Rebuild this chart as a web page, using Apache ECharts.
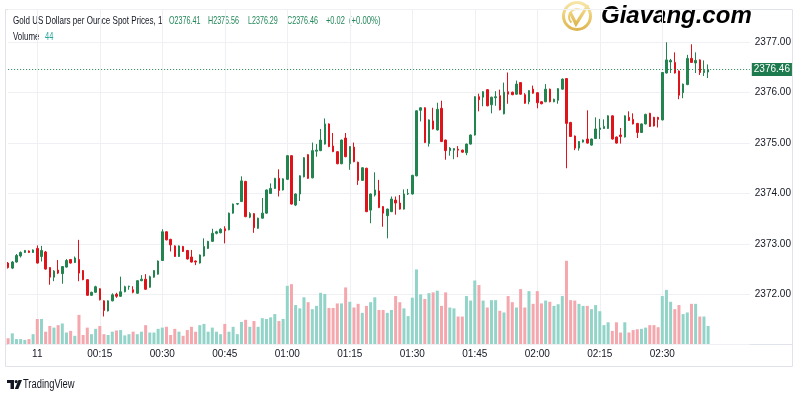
<!DOCTYPE html>
<html><head><meta charset="utf-8">
<script src="https://cdn.jsdelivr.net/npm/echarts@6/dist/echarts.min.js"></script>
<style>html,body{margin:0;padding:0;background:#fff}#c{width:800px;height:400px}</style>
</head><body><div id="c"></div>
<script>
const opens = [
2372.62,2372.52,2372.64,2372.76,2372.83,2372.86,2372.83,2372.91,2372.75,2372.84,
2372.53,2372.34,2372.48,2372.41,2372.54,2372.69,2372.63,2372.69,2372.47,2372.29,
2371.98,2372.04,2372.11,2371.87,2371.67,2371.87,2372.00,2371.96,2372.05,2372.15,
2372.09,2372.02,2372.27,2372.30,2372.14,2372.34,2372.40,2372.67,2373.24,2373.09,
2372.96,2372.75,2372.95,2372.87,2372.74,2372.66,2372.62,2372.76,2372.91,2373.05,
2373.21,2373.22,2373.30,2373.28,2373.61,2373.79,2373.84,2374.24,2373.53,2373.60,
2373.31,2373.51,2373.61,2374.00,2374.10,2374.30,2374.07,2374.28,2374.75,2373.77,
2373.99,2374.33,2374.77,2374.31,2374.84,2374.85,2374.98,2375.38,2374.94,2374.83,
2374.59,2375.10,2374.59,2374.92,2374.62,2374.26,2374.50,2373.67,2373.97,2374.05,
2373.74,2373.56,2373.64,2373.87,2373.81,2373.69,2373.99,2373.99,2374.35,2375.65,
2375.70,2374.99,2375.44,2375.26,2375.69,2375.06,2374.85,2374.86,2374.88,2374.86,
2374.81,2374.98,2375.16,2375.92,2375.91,2376.06,2375.76,2375.90,2375.94,2375.58,
2376.02,2376.01,2375.97,2376.20,2375.96,2375.82,2376.07,2376.00,2375.82,2375.82,
2376.07,2375.82,2375.85,2376.07,2376.28,2375.41,2375.14,2374.90,2375.02,2375.08,
2374.96,2375.09,2375.27,2375.29,2375.29,2375.54,2375.12,2375.16,2375.12,2375.51,
2375.47,2375.39,2375.21,2375.38,2375.59,2375.51,2375.51,2375.46,2376.39,2376.61,
2376.60,2376.43,2376.00,2376.16,2376.68,2376.59,2376.65,2376.40,2376.41];
const closes = [
2372.53,2372.64,2372.77,2372.83,2372.87,2372.83,2372.88,2372.62,2372.87,2372.50,
2372.34,2372.46,2372.42,2372.55,2372.67,2372.62,2372.72,2372.42,2372.29,2371.98,
2372.04,2372.15,2371.89,2371.68,2371.87,2371.99,2371.96,2372.05,2372.15,2372.16,
2372.04,2372.27,2372.30,2372.10,2372.35,2372.47,2372.66,2373.24,2373.08,2372.98,
2372.75,2372.96,2372.85,2372.70,2372.64,2372.64,2372.78,2372.95,2373.05,2373.21,
2373.24,2373.29,2373.26,2373.61,2373.79,2373.80,2374.25,2373.54,2373.60,2373.32,
2373.51,2373.61,2374.07,2374.10,2374.30,2374.06,2374.29,2374.75,2373.79,2373.99,
2374.35,2374.71,2374.30,2374.85,2374.86,2375.06,2375.38,2374.93,2374.83,2374.59,
2375.06,2374.73,2374.93,2374.63,2374.26,2374.51,2373.64,2373.99,2374.07,2373.72,
2373.61,2373.69,2373.89,2373.81,2373.69,2373.99,2374.00,2374.36,2375.64,2375.70,
2375.01,2375.46,2375.28,2375.67,2375.03,2374.85,2374.90,2374.89,2374.86,2374.82,
2374.98,2375.16,2375.92,2375.86,2376.02,2375.74,2375.91,2375.92,2375.66,2376.01,
2375.97,2375.96,2376.17,2375.97,2375.79,2376.04,2375.99,2375.80,2375.78,2376.07,
2375.82,2375.87,2376.08,2376.27,2375.39,2375.13,2374.90,2375.03,2375.06,2375.00,
2375.08,2375.28,2375.30,2375.33,2375.54,2375.08,2375.00,2375.13,2375.54,2375.45,
2375.38,2375.21,2375.38,2375.57,2375.33,2375.34,2375.47,2376.40,2376.65,2376.64,
2376.39,2375.95,2376.17,2376.68,2376.60,2376.64,2376.40,2376.44,2376.46];
const lows = [
2372.51,2372.50,2372.63,2372.73,2372.82,2372.82,2372.82,2372.61,2372.65,2372.49,
2372.19,2372.26,2372.40,2372.21,2372.53,2372.61,2372.62,2372.26,2372.28,2371.97,
2371.97,2372.03,2371.88,2371.56,2371.66,2371.86,2371.93,2371.95,2372.04,2372.09,
2372.02,2372.01,2372.26,2372.09,2372.13,2372.33,2372.39,2372.66,2373.07,2372.85,
2372.74,2372.74,2372.84,2372.69,2372.63,2372.58,2372.61,2372.75,2372.90,2373.04,
2373.19,2373.21,2373.01,2373.27,2373.60,2373.77,2373.83,2373.53,2373.51,2373.22,
2373.30,2373.50,2373.60,2373.99,2374.09,2373.94,2374.06,2374.27,2373.78,2373.75,
2373.85,2374.32,2374.29,2374.30,2374.73,2374.84,2374.97,2374.92,2374.82,2374.58,
2374.58,2374.72,2374.47,2374.62,2374.17,2374.25,2373.63,2373.41,2373.94,2373.71,
2373.34,2373.11,2373.63,2373.58,2373.68,2373.68,2373.97,2373.98,2374.34,2375.43,
2375.00,2374.93,2375.27,2375.25,2375.02,2374.67,2374.75,2374.68,2374.72,2374.81,
2374.76,2374.97,2375.15,2375.63,2375.73,2375.73,2375.59,2375.74,2375.65,2375.57,
2375.78,2375.95,2375.96,2375.96,2375.78,2375.77,2375.98,2375.69,2375.77,2375.81,
2375.81,2375.81,2375.78,2376.06,2374.50,2375.12,2374.86,2374.85,2375.01,2374.99,
2374.95,2375.08,2375.08,2375.28,2375.28,2375.07,2374.99,2374.99,2375.11,2375.44,
2375.37,2375.10,2375.20,2375.37,2375.32,2375.33,2375.31,2375.45,2376.38,2376.39,
2376.38,2375.87,2375.89,2376.15,2376.59,2376.39,2376.35,2376.33,2376.29];
const highs = [
2372.64,2372.66,2372.80,2372.85,2372.88,2372.87,2372.89,2372.97,2372.96,2372.86,
2372.54,2372.48,2372.68,2372.56,2372.70,2372.70,2372.75,2373.08,2372.48,2372.30,
2372.05,2372.17,2372.12,2371.88,2371.88,2372.02,2372.03,2372.35,2372.17,2372.17,
2372.16,2372.28,2372.38,2372.40,2372.37,2372.48,2372.67,2373.29,2373.25,2373.10,
2372.97,2372.97,2372.96,2372.88,2372.88,2372.67,2372.79,2373.11,2373.06,2373.30,
2373.26,2373.31,2373.35,2373.62,2373.80,2373.81,2374.34,2374.25,2373.63,2373.61,
2373.52,2373.91,2374.08,2374.20,2374.31,2374.48,2374.30,2374.76,2374.76,2374.00,
2374.36,2374.72,2374.78,2375.01,2374.98,2375.28,2375.49,2375.39,2375.20,2374.84,
2375.07,2375.20,2374.94,2375.01,2374.63,2374.52,2374.51,2374.00,2374.42,2374.27,
2373.75,2373.70,2373.94,2373.94,2373.97,2374.08,2374.09,2374.37,2375.65,2375.71,
2375.71,2375.47,2375.70,2375.80,2375.84,2375.07,2374.92,2374.90,2374.94,2374.87,
2374.99,2375.17,2375.93,2375.98,2376.03,2376.07,2375.92,2376.03,2376.06,2376.20,
2376.40,2376.02,2376.24,2376.21,2375.99,2376.05,2376.14,2376.01,2375.83,2376.17,
2376.08,2375.88,2376.09,2376.28,2376.29,2375.42,2375.15,2375.04,2375.07,2375.65,
2375.09,2375.51,2375.48,2375.47,2375.55,2375.55,2375.13,2375.30,2375.55,2375.63,
2375.59,2375.40,2375.39,2375.58,2375.60,2375.52,2375.52,2376.41,2377.00,2376.67,
2376.80,2376.44,2376.18,2376.75,2376.96,2376.80,2376.66,2376.64,2376.56];
const volumes = [
14,26,12,12,10,12,24,61,61,30,
44,40,46,50,28,32,20,71,22,40,
24,37,44,24,22,30,33,34,21,24,
30,24,30,46,28,28,37,40,42,22,
37,30,20,34,42,30,46,49,30,40,
30,24,49,30,42,24,54,59,42,56,
42,63,61,65,73,56,61,142,146,95,
87,114,102,85,93,125,122,88,88,99,
99,138,103,89,98,76,93,102,114,83,
83,76,83,117,102,87,68,113,182,121,
110,124,126,130,93,126,89,87,67,67,
117,106,155,144,106,89,107,107,81,77,
117,102,89,134,89,129,98,129,99,106,
103,93,97,117,203,107,106,98,93,93,
85,95,80,46,53,32,53,28,53,28,
34,36,37,40,46,46,41,117,132,103,
85,95,73,77,98,98,67,67,44];
// time categories: 1-minute bars from 23:53, axis extended to 02:51
const firstMinute = 23 * 60 + 53;
const categoryCount = 179;
const categories = [];
for (let k = 0; k < categoryCount; k++) {
  const m = (firstMinute + k) % 1440;
  categories.push(String(Math.floor(m / 60)).padStart(2, '0') + ':' + String(m % 60).padStart(2, '0'));
}
const tickTimes = ['00:00','00:15','00:30','00:45','01:00','01:15','01:30','01:45','02:00','02:15','02:30'];
const tickLabels = ['11','00:15','00:30','00:45','01:00','01:15','01:30','01:45','02:00','02:15','02:30'];
const priceTicks = [2372, 2373, 2374, 2375, 2376, 2377];

const F = "'Liberation Sans',Arial,sans-serif";
const UP = '#22844f', DOWN = '#e0131b';
const VUP = '#93d4c9', VDOWN = '#f5a7ae';
const GRID = '#eef0f4';
const TXT = '#131722';
const HDR_GREEN = '#22875a';

const candleData = opens.map((o, i) => [o, closes[i], lows[i], highs[i]]);
const volData = volumes.map((v, i) => ({ value: v, itemStyle: { color: closes[i] >= opens[i] ? VUP : VDOWN } }));
const last = closes.length - 1;
const lastClose = closes[last];
const lastVol = volumes[last];
const tickMap = {};
tickTimes.forEach((t, i) => { tickMap[t] = tickLabels[i]; });

const gold = { type: 'linear', x: 0, y: 0, x2: 0, y2: 1, colorStops: [{ offset: 0, color: '#f8eab2' }, { offset: 0.5, color: '#eccd72' }, { offset: 1, color: '#dcb24c' }] };

function hText(x, y, text, fill, sx) {
  return { type: 'text', x: x, y: y, scaleX: sx, silent: true,
    style: { text: text, fill: fill, font: '11px ' + F, textVerticalAlign: 'middle', verticalAlign: 'middle', textAlign: 'left', align: 'left' } };
}

const chart = echarts.init(document.getElementById('c'), null, { renderer: 'canvas' });
chart.setOption({
  animation: false,
  backgroundColor: '#ffffff',
  textStyle: { fontFamily: F },
  grid: [
    { left: 8.13, right: 50.2, top: 9, bottom: 55.3 },
    { left: 8.13, right: 50.2, bottom: 56, height: 100 }
  ],
  xAxis: [
    { type: 'category', gridIndex: 0, data: categories, boundaryGap: false,
      axisLine: { show: false }, axisTick: { show: false }, axisLabel: { show: false },
      splitLine: { show: true, interval: (i, v) => v in tickMap, lineStyle: { color: GRID, width: 1 } } },
    { type: 'category', gridIndex: 1, data: categories, boundaryGap: false,
      axisLine: { show: false }, axisTick: { show: false }, splitLine: { show: false },
      axisLabel: { interval: (i, v) => v in tickMap, formatter: v => tickMap[v] || '', margin: 5,
        color: TXT, fontSize: 10, fontFamily: F, hideOverlap: false } }
  ],
  yAxis: [
    { type: 'value', gridIndex: 0, position: 'right', min: 2371, max: 2377.66, interval: 1,
      axisLine: { show: false }, axisTick: { show: false },
      axisLabel: { margin: 5, color: TXT, fontSize: 10, fontFamily: F, showMaxLabel: false, showMinLabel: false,
        formatter: v => priceTicks.some(p => Math.abs(p - v) < 1e-6) ? v.toFixed(2) : '' },
      splitLine: { show: true, lineStyle: { color: GRID, width: 1 } } },
    { type: 'value', gridIndex: 1, min: 0, max: 244, show: false, splitLine: { show: false } }
  ],
  series: [
    { type: 'bar', xAxisIndex: 1, yAxisIndex: 1, data: volData, barWidth: 3, clip: false, z: 1,
      markLine: { silent: true, symbol: ['none', 'none'], animation: false,
        lineStyle: { opacity: 0 },
        data: [{ yAxis: lastVol }],
        label: { show: true, position: 'end', distance: 2, formatter: String(lastVol), color: '#fff',
          backgroundColor: '#22a28c', padding: [2, 3, 1, 3], fontSize: 10, fontFamily: F } } },
    { type: 'candlestick', xAxisIndex: 0, yAxisIndex: 0, data: candleData, barWidth: 2, clip: false, z: 3,
      itemStyle: { color: UP, color0: DOWN, borderColor: UP, borderColor0: DOWN, borderWidth: 1 },
      markLine: { silent: true, symbol: ['none', 'none'], animation: false,
        data: [{ yAxis: lastClose }],
        lineStyle: { color: UP, type: [1, 2], width: 1 },
        label: { show: true, position: 'end', distance: 2, formatter: lastClose.toFixed(2), color: '#fff',
          backgroundColor: '#1e7b4d', padding: [2, 2, 1, 2], fontSize: 10, fontFamily: F } } }
  ],
  graphic: [
    { type: 'rect', silent: true, z: -1, shape: { x: 5.5, y: 9.5, width: 787, height: 357 }, style: { fill: 'none', stroke: '#e0e3eb', lineWidth: 1 } },
    { type: 'line', silent: true, shape: { x1: 5.5, y1: 344.5, x2: 792.5, y2: 344.5 }, style: { stroke: '#e0e3eb', lineWidth: 1 } },
    hText(13, 21, 'Gold US Dollars per Ounce Spot Prices, 1', TXT, 0.73),
    hText(169, 21, 'O' + opens[last].toFixed(2), HDR_GREEN, 0.65),
    hText(208, 21, 'H' + highs[last].toFixed(2), HDR_GREEN, 0.65),
    hText(248, 21, 'L' + lows[last].toFixed(2), HDR_GREEN, 0.65),
    hText(287, 21, 'C' + closes[last].toFixed(2), HDR_GREEN, 0.65),
    hText(326, 21, '+' + (closes[last] - closes[last - 1]).toFixed(2), HDR_GREEN, 0.68),
    hText(349, 21, '(+0.00%)', HDR_GREEN, 0.7),
    hText(13, 37, 'Volume', TXT, 0.72),
    hText(45, 37, String(lastVol), '#26a69a', 0.68),
    // watermark logo
    { type: 'circle', silent: true, shape: { cx: 577, cy: 16, r: 13.5 }, style: { fill: 'none', stroke: gold, lineWidth: 3 } },
    { type: 'arc', silent: true, shape: { cx: 577, cy: 17, r: 8, startAngle: Math.PI * 0.75, endAngle: Math.PI * 1.6 }, style: { fill: 'none', stroke: gold, lineWidth: 2 } },
    { type: 'polyline', silent: true, shape: { points: [[570, 12], [576, 24], [588, 5]] }, style: { fill: 'none', stroke: gold, lineWidth: 3.2 } },
    { type: 'text', silent: true, x: 601, y: 16, style: { text: 'Giavang.com', fill: gold, font: 'italic bold 24px "Liberation Sans", Arial, sans-serif', verticalAlign: 'middle', textVerticalAlign: 'middle' } },
    // TradingView mark
    { type: 'rect', silent: true, shape: { x: 7, y: 380, width: 7, height: 3 }, style: { fill: TXT } },
    { type: 'rect', silent: true, shape: { x: 10.5, y: 380, width: 3.5, height: 9 }, style: { fill: TXT } },
    { type: 'circle', silent: true, shape: { cx: 16.2, cy: 381.6, r: 1.6 }, style: { fill: TXT } },
    { type: 'polygon', silent: true, shape: { points: [[18.5, 380], [22, 380], [18.3, 389], [14.8, 389]] }, style: { fill: TXT } },
    { type: 'text', silent: true, x: 23, y: 385, scaleX: 0.78, style: { text: 'TradingView', fill: TXT, font: '12px ' + F, verticalAlign: 'middle', textVerticalAlign: 'middle' } }
  ]
});
</script>
</body></html>
